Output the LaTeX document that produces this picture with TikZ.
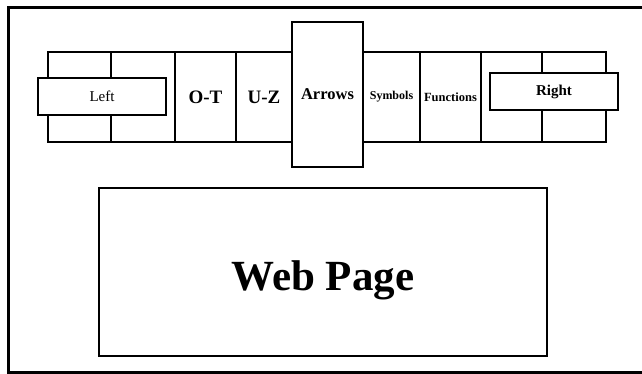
\documentclass[tikz,border=0pt]{standalone}
\usepackage{fontspec}
\setmainfont{Liberation Serif}
\usetikzlibrary{positioning}

\tikzset{
  cell/.style={draw, line width=1.6pt, outer sep=0pt, inner sep=0pt,
               minimum height=90pt},
  tab/.style={draw, fill=white, line width=1.6pt, outer sep=0pt, inner sep=0pt,
              minimum width=128pt, minimum height=37pt}
}

\begin{document}
\begin{tikzpicture}[x=1pt, y=-1pt]
    \useasboundingbox (0,0) rectangle (642,374);
    \draw[line width=3pt] (8.5,8) rectangle (660,372);

    % menu bar
    \node[cell, anchor=north west, minimum width=63pt] (c1) at (48,52) {};
    \node[cell, minimum width=64pt, right=0pt of c1] (c2) {};
    \node[cell, minimum width=61pt, right=0pt of c2,
          font=\bfseries\fontsize{19}{19}\selectfont] (ot) {O-T};
    \node[cell, minimum width=56pt, right=0pt of ot,
          font=\bfseries\fontsize{19}{19}\selectfont] (uz) {U-Z};
    \node[cell, minimum width=71pt, right=0pt of uz] (gap) {};
    \node[cell, minimum width=57pt, right=0pt of gap,
          font=\bfseries\fontsize{12}{12}\selectfont] (sym) {Symbols};
    \node[cell, minimum width=61pt, right=0pt of sym,
          font=\bfseries\fontsize{12.5}{12.5}\selectfont] (fun) {Functions};
    \node[cell, minimum width=61pt, right=0pt of fun] (c8) {};
    \node[cell, minimum width=64pt, right=0pt of c8] (c9) {};

    \node[draw, fill=white, line width=1.6pt, inner sep=0pt,
          minimum width=71pt, minimum height=145pt,
          font=\bfseries\fontsize{16.5}{16.5}\selectfont] (arrows) at ([yshift=2.5pt]gap.center) {Arrows};
    \node[tab, font=\fontsize{15}{15}\selectfont] (left) at (102,96.5) {Left};
    \node[tab, font=\bfseries\fontsize{15}{15}\selectfont] (right) at (554,91.5) {Right};

    % page
    \node[draw, line width=1.8pt, minimum width=448pt, minimum height=168pt] (page) at (323,272) {};
    \node[font=\bfseries\fontsize{43}{43}\selectfont] (pagetext) at ([yshift=-8pt]page.center) {Web Page};
\end{tikzpicture}
\end{document}
